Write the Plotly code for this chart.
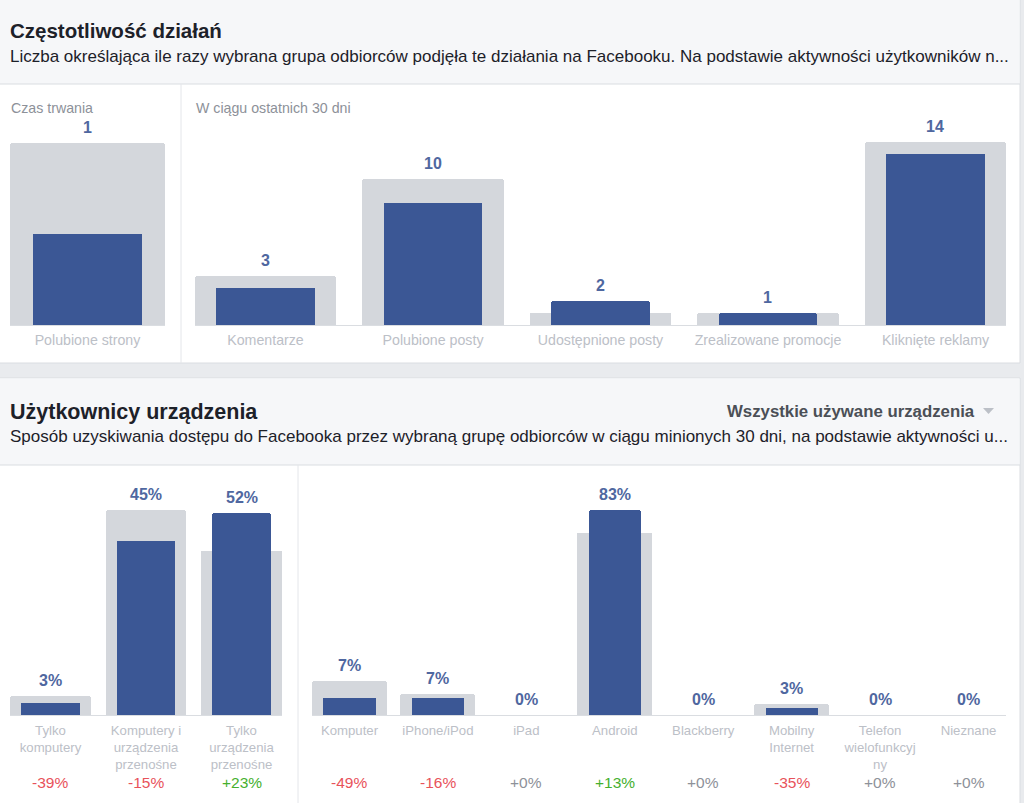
import plotly.graph_objects as go

W, H = 1024, 803

# ---------------- data ----------------
dur_cats = ["Polubione strony"]
dur_vals = [1]
dur_bench = [2]

act_cats = ["Komentarze", "Polubione posty", "Udostępnione posty",
            "Zrealizowane promocje", "Kliknięte reklamy"]
act_vals = [3, 10, 2, 1, 14]
act_bench = [4, 12, 1, 1, 15]

type_cats = ["Tylko<br>komputery", "Komputery i<br>urządzenia<br>przenośne",
             "Tylko<br>urządzenia<br>przenośne"]
type_vals = [3, 45, 52]
type_bench = [4.9, 52.9, 42.3]
type_delta = [-39, -15, 23]

dev_cats = ["Komputer", "iPhone/iPod", "iPad", "Android", "Blackberry",
            "Mobilny<br>Internet", "Telefon<br>wielofunkcyj<br>ny", "Nieznane"]
dev_vals = [7, 7, 0, 83, 0, 3, 0, 0]
dev_bench = [13.7, 8.5, 0, 73.5, 0, 4.6, 0, 0]
dev_delta = [-49, -16, 0, 13, 0, -35, 0, 0]

# ---------------- style ----------------
FONT = "Liberation Sans"
BLUE = "#3b5795"
GREY_BAR = "#d4d7dc"
VAL_COL = "#4f67a0"
TICK_COL = "#bcc0c7"
RED = "#e8525a"
GREEN = "#45b02e"
NEUTRAL = "#8d9199"
HEAD_BG = "#f6f7f9"
PAGE_BG = "#e9ebee"
BORDER = "#dadde1"


def px_x(x):
    return x / W


def px_y(y):
    return 1 - y / H


fig = go.Figure()

panels = [
    # axis suffix, cats, vals, bench, x px range, y px (top, base), grey w, blue w, fmt, standoff, tick size
    ("", dur_cats, dur_vals, dur_bench, (10, 165), (143, 325), 1.0, 0.70, "{}", 2, 14.2),
    ("2", act_cats, act_vals, act_bench, (195, 1006), (142, 325), 0.842, 0.59, "{}", 2, 14.2),
    ("3", type_cats, type_vals, type_bench, (10, 282), (510, 715), 0.848, 0.61, "{}%", 3, 13.2),
    ("4", dev_cats, dev_vals, dev_bench, (312, 1006), (510, 715), 0.848, 0.59, "{}%", 3, 13.2),
]

annotations = []
for suf, cats, vals, bench, (x0, x1), (ytop, ybase), gw, bw, fmt, stand, tsize in panels:
    xa, ya = "x" + suf, "y" + suf
    fig.add_trace(go.Bar(x=cats, y=bench, width=gw, marker_color=GREY_BAR,
                         marker_line_width=0, xaxis=xa, yaxis=ya,
                         hoverinfo="skip", showlegend=False))
    fig.add_trace(go.Bar(x=cats, y=vals, width=bw, marker_color=BLUE,
                         marker_line_width=0, xaxis=xa, yaxis=ya,
                         showlegend=False))
    n = len(cats)
    ymax = max(max(vals), max(bench))
    fig.update_layout(**{
        "xaxis" + suf: dict(domain=[px_x(x0), px_x(x1)], anchor=ya,
                            range=[-gw / 2, n - 1 + gw / 2], type="category",
                            showline=True, linecolor=BORDER, linewidth=1,
                            showgrid=False, ticks="", fixedrange=True,
                            ticklabelstandoff=stand,
                            tickfont=dict(family=FONT, size=tsize, color=TICK_COL)),
        "yaxis" + suf: dict(domain=[px_y(ybase), px_y(ytop)], anchor=xa,
                            range=[0, ymax], showgrid=False, zeroline=False,
                            showticklabels=False, fixedrange=True),
    })
    for c, v, b in zip(cats, vals, bench):
        annotations.append(dict(x=c, y=max(v, b), xref=xa, yref=ya,
                                text="<b>" + fmt.format(v) + "</b>",
                                showarrow=False, yanchor="bottom", yshift=5,
                                font=dict(family=FONT, size=16, color=VAL_COL)))

# delta labels
for suf, cats, deltas in [("3", type_cats, type_delta), ("4", dev_cats, dev_delta)]:
    for c, d in zip(cats, deltas):
        col = RED if d < 0 else (GREEN if d > 0 else NEUTRAL)
        txt = ("+" if d >= 0 else "-") + str(abs(d)) + "%"
        annotations.append(dict(x=c, y=px_y(782), xref="x" + suf, yref="paper",
                                text=txt, showarrow=False, yanchor="middle",
                                borderpad=0,
                                font=dict(family=FONT, size=15.5, color=col)))

# header texts
def txt(x, y, text, size, color, bold=False, anchor="left"):
    annotations.append(dict(x=px_x(x), y=px_y(y), xref="paper", yref="paper",
                            text=("<b>" + text + "</b>") if bold else text,
                            showarrow=False, xanchor=anchor, yanchor="middle",
                            font=dict(family=FONT, size=size, color=color)))

txt(8, 30, "Częstotliwość działań", 20.5, "#1d2129", bold=True)
txt(8, 56, "Liczba określająca ile razy wybrana grupa odbiorców podjęła te działania "
    "na Facebooku. Na podstawie aktywności użytkowników n...", 17, "#1d2129")
txt(9, 108, "Czas trwania", 14.2, NEUTRAL)
txt(194, 108, "W ciągu ostatnich 30 dni", 14.2, NEUTRAL)
txt(8, 412, "Użytkownicy urządzenia", 21.5, "#1d2129", bold=True)
txt(977, 411, "Wszystkie używane urządzenia", 16.8, "#4b4f56", bold=True, anchor="right")
txt(8, 437, "Sposób uzyskiwania dostępu do Facebooka przez wybraną grupę odbiorców "
    "w ciągu minionych 30 dni, na podstawie aktywności u...", 17, "#1d2129")

# ---------------- panel shapes ----------------
def rect(x0, y0, x1, y1, fill, line=None):
    return dict(type="rect", xref="paper", yref="paper", layer="below",
                x0=px_x(x0), x1=px_x(x1), y0=px_y(y1), y1=px_y(y0),
                fillcolor=fill, line=dict(width=1 if line else 0, color=line or fill))


def line(x0, y0, x1, y1, color=BORDER):
    return dict(type="line", xref="paper", yref="paper", layer="below",
                x0=px_x(x0), x1=px_x(x1), y0=px_y(y0), y1=px_y(y1),
                line=dict(width=1, color=color))


shapes = [
    rect(-2, -2, 1020, 363, "white", BORDER),
    rect(-1, -1, 1019.5, 84, HEAD_BG),
    line(0, 84, 1020, 84),
    line(181, 84, 181, 363, "#e4e6ea"),
    rect(-2, 378, 1020, 806, "white", BORDER),
    rect(-1, 378.5, 1019.5, 465, HEAD_BG),
    line(0, 465, 1020, 465),
    line(298, 465, 298, 805, "#e4e6ea"),
    dict(type="path", xref="paper", yref="paper", layer="below",
         path="M {} {} L {} {} L {} {} Z".format(px_x(983), px_y(408), px_x(994), px_y(408),
                                                 px_x(988.5), px_y(414)),
         fillcolor="#bcc0c7", line=dict(width=0)),
]

fig.update_layout(
    width=W, height=H, margin=dict(l=0, r=0, t=0, b=0),
    paper_bgcolor=PAGE_BG, plot_bgcolor="rgba(0,0,0,0)",
    barmode="overlay", barcornerradius=3, bargap=0,
    annotations=annotations, shapes=shapes, showlegend=False,
    font=dict(family=FONT),
)

fig.write_html("out.html", config={"displayModeBar": False})
